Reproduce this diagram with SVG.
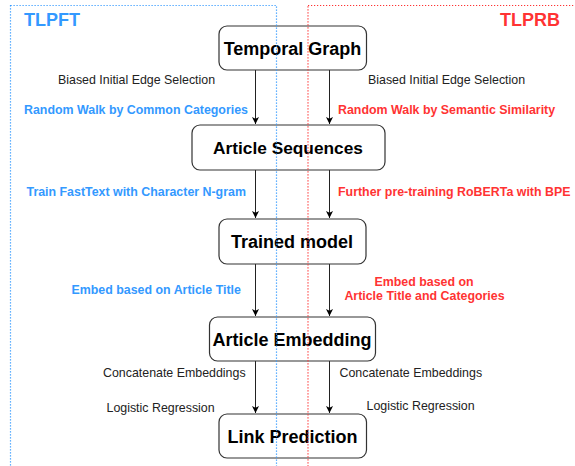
<svg xmlns="http://www.w3.org/2000/svg" width="575" height="466" viewBox="0 0 575 466">
<style>
.box{fill:#fff;stroke:#333;stroke-width:1.2}
.bt{font-family:"Liberation Sans",Arial,sans-serif;font-weight:bold;font-size:18px;fill:#000;text-anchor:middle}
.lb{font-family:"Liberation Sans",Arial,sans-serif;font-size:12.4px;fill:#222}
.blue{font-family:"Liberation Sans",Arial,sans-serif;font-weight:bold;font-size:12.4px;fill:#3399FF}
.red{font-family:"Liberation Sans",Arial,sans-serif;font-weight:bold;font-size:12.4px;fill:#FF3333}
.edge{stroke:#222;stroke-width:1;fill:none;marker-end:url(#ah)}
</style>
<defs>
<marker id="ah" markerWidth="10" markerHeight="10" refX="8" refY="5" orient="auto" markerUnits="userSpaceOnUse">
<path d="M1,1.5 L8,5 L1,8.5 L2.8,5 Z" fill="#000"/>
</marker>
</defs>
<rect width="575" height="466" fill="#fff"/>
<g id="connectors">
<line class="edge" x1="255.5" y1="70" x2="255.5" y2="124"/>
<line class="edge" x1="329.5" y1="70" x2="329.5" y2="124"/>
<line class="edge" x1="255.5" y1="170" x2="255.5" y2="218"/>
<line class="edge" x1="329.5" y1="170" x2="329.5" y2="218"/>
<line class="edge" x1="255.5" y1="264" x2="255.5" y2="316"/>
<line class="edge" x1="329.5" y1="264" x2="329.5" y2="316"/>
<line class="edge" x1="255.5" y1="361" x2="255.5" y2="413"/>
<line class="edge" x1="329.5" y1="361" x2="329.5" y2="413"/>
</g>
<g id="labels">
<text class="lb" x="58" y="84">Biased Initial Edge Selection</text>
<text class="lb" x="368" y="84">Biased Initial Edge Selection</text>
<text class="blue" x="24" y="114">Random Walk by Common Categories</text>
<text class="red" x="338" y="114">Random Walk by Semantic Similarity</text>
<text class="blue" x="26.5" y="196">Train FastText with Character N-gram</text>
<text class="red" x="338" y="196">Further pre-training RoBERTa with BPE</text>
<text class="blue" x="71.5" y="294">Embed based on Article Title</text>
<text class="red" x="424" y="285.5" text-anchor="middle">Embed based on</text>
<text class="red" x="424.5" y="300" text-anchor="middle">Article Title and Categories</text>
<text class="lb" x="103" y="377">Concatenate Embeddings</text>
<text class="lb" x="339.5" y="377">Concatenate Embeddings</text>
<text class="lb" x="106.5" y="411.5">Logistic Regression</text>
<text class="lb" x="366.5" y="410">Logistic Regression</text>
</g>
<g id="temporal-graph">
<rect class="box" x="219" y="26" width="147.5" height="44" rx="8"/>
<text class="bt" x="292.5" y="55">Temporal Graph</text>
</g>
<g id="article-sequences">
<rect class="box" x="192" y="125" width="193" height="45" rx="8"/>
<text class="bt" x="288" y="153.5" style="font-size:17.3px">Article Sequences</text>
</g>
<g id="trained-model">
<rect class="box" x="219" y="219" width="147" height="45" rx="8"/>
<text class="bt" x="292" y="248">Trained model</text>
</g>
<g id="article-embedding">
<rect class="box" x="209.5" y="317" width="166" height="44" rx="8"/>
<text class="bt" x="292" y="346">Article Embedding</text>
</g>
<g id="link-prediction">
<rect class="box" x="219" y="414" width="147.5" height="44" rx="8"/>
<text class="bt" x="292.5" y="443">Link Prediction</text>
</g>
<g id="regions">
<rect x="10.5" y="5.5" width="266" height="480" fill="none" stroke="#3399FF" stroke-width="1.2" stroke-dasharray="1.2,1.8"/>
<rect x="308" y="5.5" width="280" height="480" fill="none" stroke="#FF3333" stroke-width="1.2" stroke-dasharray="1.2,1.8"/>
<text x="24" y="26" style="font-family:'Liberation Sans',Arial,sans-serif;font-weight:bold;font-size:18px;fill:#3399FF">TLPFT</text>
<text x="560" y="26" text-anchor="end" style="font-family:'Liberation Sans',Arial,sans-serif;font-weight:bold;font-size:18px;fill:#FF3333">TLPRB</text>
</g>
</svg>
